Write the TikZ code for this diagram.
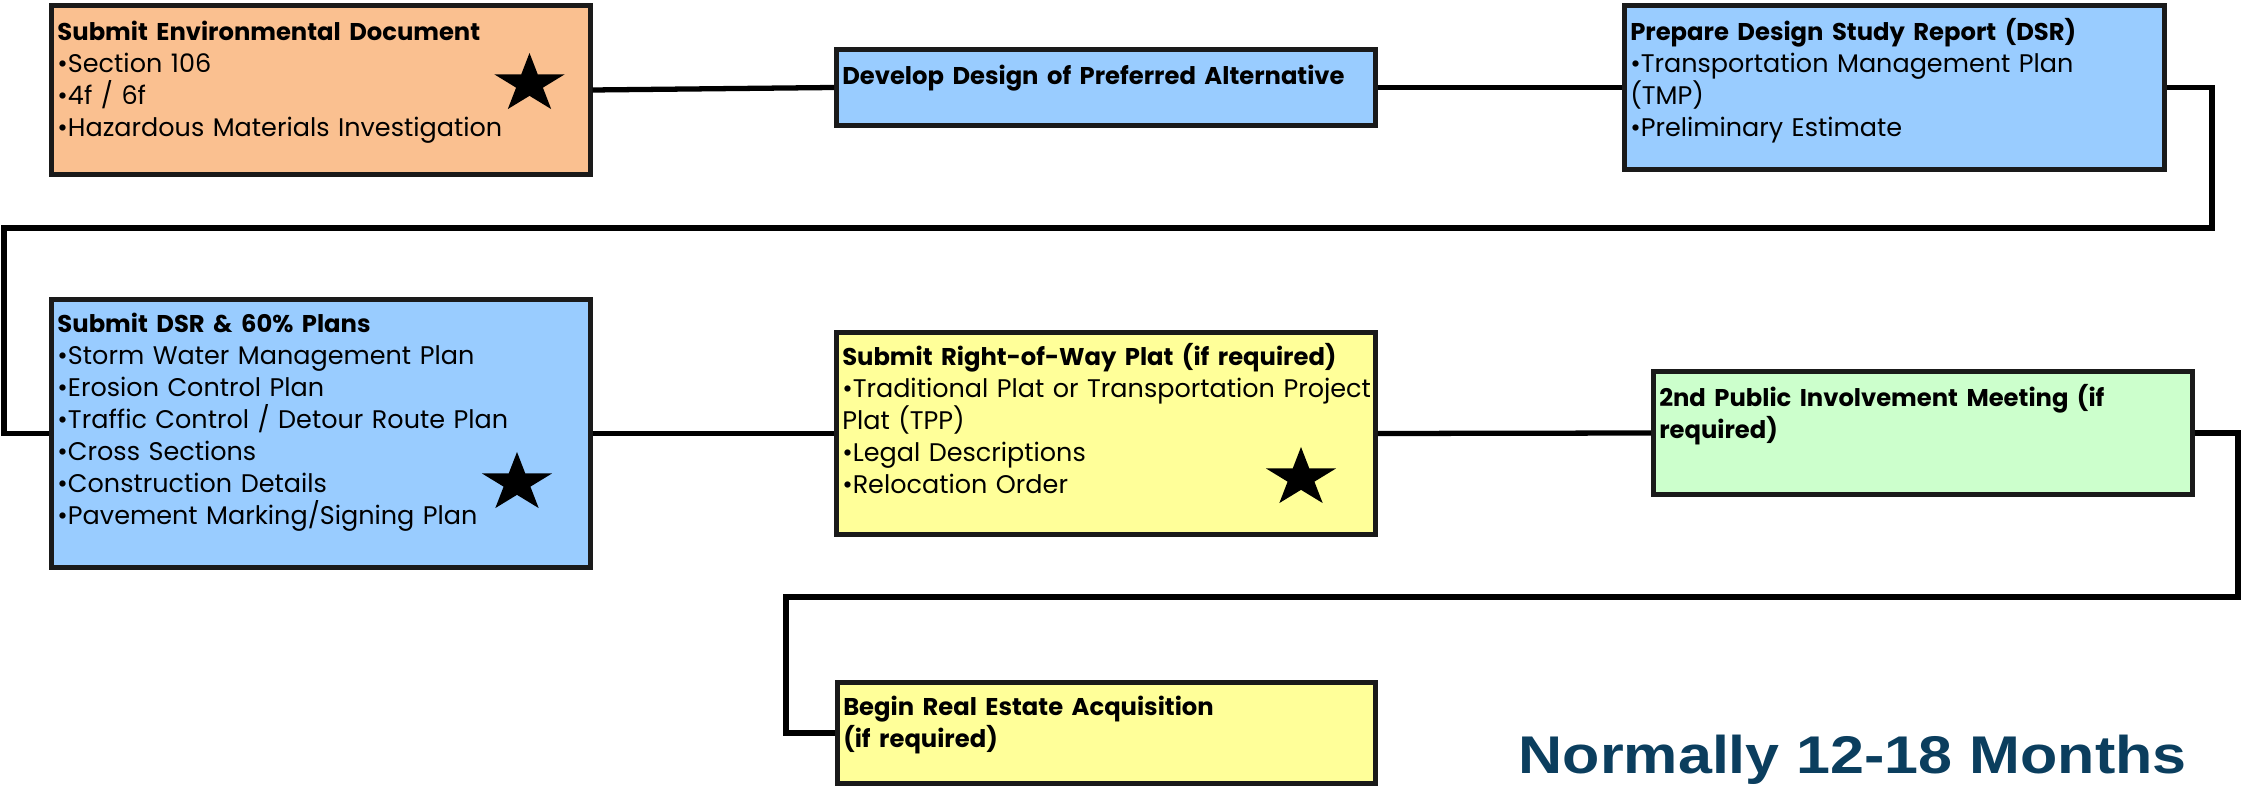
\documentclass[tikz,border=0pt]{standalone}
\usepackage{fontspec}
\setmainfont{Poppins}
\newfontfamily\bannerfont{Liberation Sans}
\usepackage{tikz}
\usepackage{xcolor}
\usepackage{graphicx}
\usetikzlibrary{shapes.geometric}

\definecolor{envorange}{HTML}{FAC090}
\definecolor{dsrblue}{HTML}{99CCFF}
\definecolor{platyellow}{HTML}{FFFF99}
\definecolor{meetgreen}{HTML}{CCFFCC}
\definecolor{boxline}{HTML}{1A1A1A}
\definecolor{bannernavy}{HTML}{0B3E5E}

\newcommand{\boxhead}[1]{{\fontsize{6.9pt}{9.1pt}\selectfont\bfseries #1}}

\begin{document}
\begin{tikzpicture}[
    box/.style={draw=boxline, line width=1.4pt, inner sep=0pt},
    txt/.style={anchor=north west, align=left, inner sep=0pt, text width=5.4cm,
        font=\fontsize{7.25pt}{9.1pt}\selectfont},
    link/.style={line width=1.5pt},
    bigstar/.style={star, star points=5, star point ratio=2.618, fill=black,
        inner sep=0pt, minimum size=0.62cm, xscale=1.19, transform shape}
]
                \useasboundingbox (0,0) rectangle (22.41,-7.86);
                % boxes
                \node[box, fill=envorange, minimum width=5.385cm, minimum height=1.69cm] (env) at (3.21,-0.90) {};
                \node[box, fill=dsrblue, minimum width=5.39cm, minimum height=0.76cm] (develop) at (11.06,-0.875) {};
                \node[box, fill=dsrblue, minimum width=5.40cm, minimum height=1.64cm] (dsr) at (18.945,-0.875) {};
                \node[box, fill=dsrblue, minimum width=5.385cm, minimum height=2.68cm] (plans) at (3.21,-4.335) {};
                \node[box, fill=platyellow, minimum width=5.39cm, minimum height=2.02cm] (plat) at (11.06,-4.335) {};
                \node[box, fill=meetgreen, minimum width=5.39cm, minimum height=1.23cm] (meeting) at (19.23,-4.33) {};
                \node[box, fill=platyellow, minimum width=5.38cm, minimum height=1.01cm] (estate) at (11.065,-7.33) {};
                % texts
                \node[txt] (envtxt) at ([shift={(0.075,-0.14)}]env.north west) {\strut\boxhead{Submit Environmental Document}\\
                    •Section 106\\ •4f / 6f\\ •Hazardous Materials Investigation};
                \node[txt] (developtxt) at ([shift={(0.075,-0.14)}]develop.north west) {\strut\boxhead{Develop Design of Preferred Alternative}};
                \node[txt] (dsrtxt) at ([shift={(0.075,-0.14)}]dsr.north west) {\strut\boxhead{Prepare Design Study Report (DSR)}\\
                    •Transportation Management Plan\\ (TMP)\\ •Preliminary Estimate};
                \node[txt] (planstxt) at ([shift={(0.075,-0.12)}]plans.north west) {\strut\boxhead{Submit DSR \& 60\% Plans}\\
                    •Storm Water Management Plan\\ •Erosion Control Plan\\ •Traffic Control / Detour Route Plan\\
                    •Cross Sections\\ •Construction Details\\ •Pavement Marking/Signing Plan};
                \node[txt] (plattxt) at ([shift={(0.075,-0.12)}]plat.north west) {\strut\boxhead{Submit Right-of-Way Plat (if required)}\\
                    •Traditional Plat or Transportation Project\\ Plat (TPP)\\ •Legal Descriptions\\ •Relocation Order};
                \node[txt] (meetingtxt) at ([shift={(0.075,-0.14)}]meeting.north west) {\strut\boxhead{2nd Public Involvement Meeting (if\\ required)}};
                \node[txt] (estatetxt) at ([shift={(0.075,-0.12)}]estate.north west) {\strut\boxhead{Begin Real Estate Acquisition\\ (if required)}};
                % stars
                \node[bigstar] (envstar) at (5.295,-0.84) {};
                \node[bigstar] (plansstar) at (5.17,-4.83) {};
                \node[bigstar] (platstar) at (13.01,-4.78) {};
                % connectors
                \coordinate (turnA) at (22.12,-2.28);
                \coordinate (turnB) at (0.04,-2.28);
                \coordinate (turnC) at (22.38,-5.97);
                \coordinate (turnD) at (7.86,-5.97);
                \draw[link] (env.east) -- (develop.west);
                \draw[link] (develop.east) -- (dsr.west);
                \draw[link] (dsr.east) -| (turnA) -- (turnB) |- (plans.west);
                \draw[link] (plans.east) -- (plat.west);
                \draw[link] (plat.east) -- (meeting.west);
                \draw[link] (meeting.east) -| (turnC) -- (turnD) |- (estate.west);
                \node[anchor=base west, inner sep=0pt, text=bannernavy,
                    font=\bannerfont\bfseries\fontsize{15.1pt}{18pt}\selectfont] (months) at (15.18,-7.73)
                    {\scalebox{1.15}[1]{Normally 12-18 Months}};
            \end{tikzpicture}
\end{document}
